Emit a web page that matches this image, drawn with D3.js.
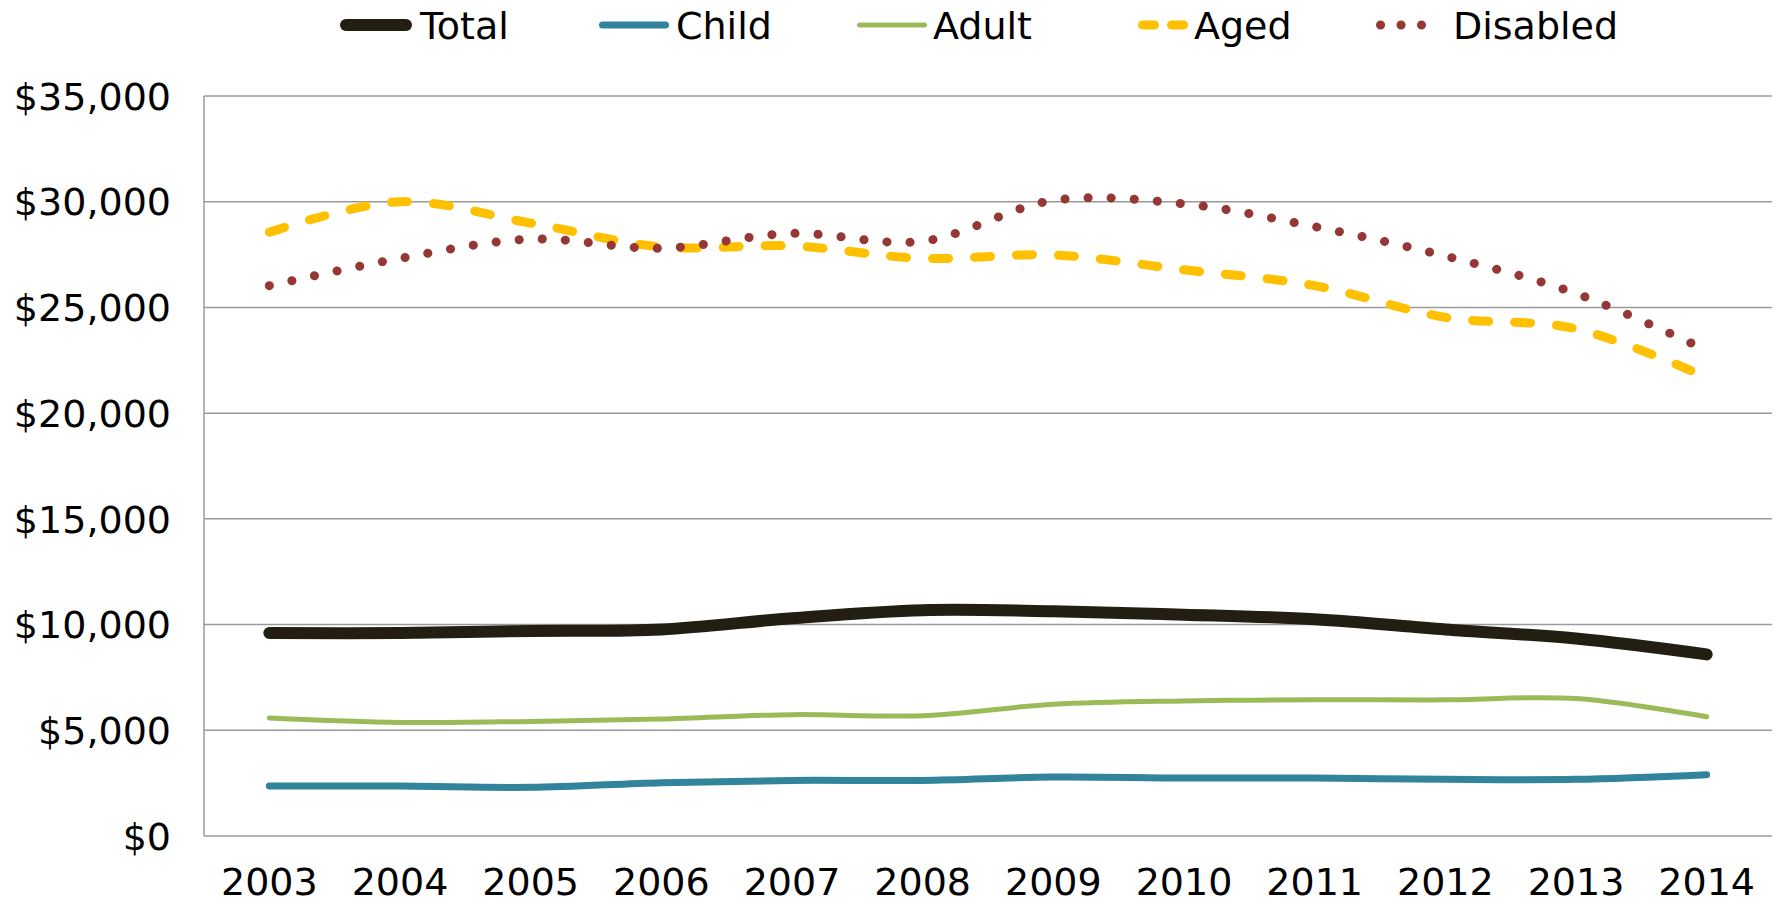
<!DOCTYPE html>
<html lang="en">
<head>
    <meta charset="UTF-8">
    <title>Spending per enrollee</title>
    <script src="https://d3js.org/d3.v7.min.js"></script>
    <style>
        body { margin: 0; background: #fff; }
        text { font-family: Verdana, "DejaVu Sans", sans-serif; fill: #000; }
    </style>
</head>
<body>
<script>
    // Data
    const years = ['2003', '2004', '2005', '2006', '2007', '2008', '2009', '2010', '2011', '2012', '2013', '2014'];
    const total    = [9600, 9600, 9700, 9770, 10300, 10680, 10630, 10470, 10250, 9770, 9340, 8590];
    const child    = [2360, 2360, 2300, 2520, 2630, 2630, 2790, 2740, 2740, 2680, 2680, 2900];
    const adult    = [5580, 5370, 5420, 5530, 5740, 5690, 6230, 6390, 6440, 6440, 6500, 5640];
    const aged     = [28560, 30000, 28990, 27860, 27910, 27320, 27480, 26780, 26030, 24530, 23990, 21690];
    const disabled = [26030, 27320, 28230, 27800, 28500, 28130, 30060, 29900, 28820, 27430, 25660, 22970];
    const yTicks = [0, 5000, 10000, 15000, 20000, 25000, 30000, 35000];

    const series = [
        { name: 'Total', values: total, color: '#221f12', width: 12, dash: null },
        { name: 'Child', values: child, color: '#31849b', width: 7, dash: null },
        { name: 'Adult', values: adult, color: '#9bbb59', width: 5, dash: null },
        { name: 'Aged', values: aged, color: '#ffc000', width: 9, dash: '16 26' },
        { name: 'Disabled', values: disabled, color: '#953735', width: 9, dash: '0.1 23' }
    ];

    const width = 1779;
    const height = 904;
    const margin = { top: 96, right: 7, bottom: 68, left: 204 };

    const svg = d3.select('body').append('svg')
        .attr('width', width)
        .attr('height', height);

    const xScale = d3.scaleBand()
        .domain(years)
        .range([margin.left, width - margin.right]);

    const yScale = d3.scaleLinear()
        .domain([0, 35000])
        .range([height - margin.bottom, margin.top]);

    const xc = d => xScale(d) + xScale.bandwidth() / 2;

    // Gridlines
    svg.append('g')
        .selectAll('line')
        .data(yTicks)
        .enter().append('line')
        .attr('x1', margin.left)
        .attr('x2', width - margin.right)
        .attr('y1', d => yScale(d))
        .attr('y2', d => yScale(d))
        .attr('stroke', '#9a9a9a')
        .attr('stroke-width', 1.5);

    // Left axis line
    svg.append('line')
        .attr('x1', margin.left)
        .attr('x2', margin.left)
        .attr('y1', yScale(0))
        .attr('y2', yScale(35000))
        .attr('stroke', '#9a9a9a')
        .attr('stroke-width', 1.5);

    // Y labels
    const fmt = d3.format(',');
    svg.append('g')
        .selectAll('text')
        .data(yTicks)
        .enter().append('text')
        .attr('x', 171)
        .attr('y', d => yScale(d))
        .attr('dy', '0.36em')
        .attr('text-anchor', 'end')
        .style('font-size', '38px')
        .text(d => '$' + fmt(d));

    // X labels
    svg.append('g')
        .selectAll('text')
        .data(years)
        .enter().append('text')
        .attr('x', d => xc(d))
        .attr('y', 895)
        .attr('text-anchor', 'middle')
        .style('font-size', '38px')
        .text(d => d);

    // Lines
    const line = d3.line()
        .x((d, i) => xc(years[i]))
        .y(d => yScale(d))
        .curve(d3.curveCatmullRom.alpha(0.5));

    const drawOrder = ['Child', 'Adult', 'Total', 'Aged', 'Disabled'];
    drawOrder.forEach(n => {
        const s = series.find(t => t.name === n);
        svg.append('path')
            .datum(s.values)
            .attr('d', line)
            .attr('fill', 'none')
            .attr('stroke', s.color)
            .attr('stroke-width', s.width)
            .attr('stroke-linecap', 'round')
            .attr('stroke-linejoin', 'round')
            .attr('stroke-dasharray', s.dash);
    });

    // Legend
    const legendX = [340, 599, 857, 1138, 1376];
    const legendLen = [72, 70, 70, 50, 50];
    const legendDash = [null, null, null, '12 17', '0.1 20.4'];
    const legendText = [420, 676, 933, 1194, 1453];
    const legend = svg.append('g');
    series.forEach((s, i) => {
        legend.append('line')
            .attr('x1', legendX[i] + s.width / 2)
            .attr('x2', legendX[i] + legendLen[i] - s.width / 2)
            .attr('y1', 25)
            .attr('y2', 25)
            .attr('stroke', s.color)
            .attr('stroke-width', s.width)
            .attr('stroke-linecap', 'round')
            .attr('stroke-dasharray', legendDash[i]);
        legend.append('text')
            .attr('x', legendText[i])
            .attr('y', 25)
            .attr('dy', '0.36em')
            .style('font-size', '38px')
            .text(s.name);
    });
</script>
</body>
</html>
